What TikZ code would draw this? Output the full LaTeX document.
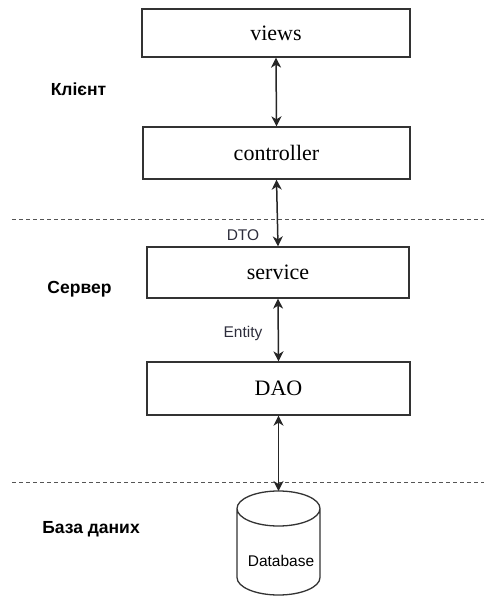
\documentclass[tikz,border=0pt]{standalone}
\usepackage{fontspec}
\setmainfont{Liberation Serif}
\newfontfamily\lblfont{Liberation Sans}
\usetikzlibrary{positioning,arrows.meta,shapes.geometric}
\definecolor{lyink}{HTML}{333333}
\definecolor{lygry}{HTML}{555555}
\definecolor{lytag}{HTML}{2E2E3C}
\tikzset{
  box/.style    ={draw=lyink, line width=1.3pt, fill=white, inner sep=0pt,
                  font=\fontsize{22}{26}\selectfont},
  dbline/.style ={draw=lyink, line width=1.3pt, fill=white},
  tier/.style   ={font=\lblfont\bfseries\fontsize{17.5}{20}\selectfont, anchor=base},
  note/.style   ={font=\lblfont\fontsize{15.5}{18}\selectfont, text=lytag, anchor=base},
  flow/.style   ={{Stealth[length=10pt,width=10pt,inset=3pt]}-{Stealth[length=10pt,width=10pt,inset=3pt]},
                  line width=1.5pt, draw=black!85},
  divider/.style={dash pattern=on 4pt off 3pt, line width=1pt, draw=lygry},
  rim/.style    ={x radius=41.5pt, y radius=17.5pt},
}
\begin{document}
\begin{tikzpicture}[x=1pt,y=1pt]
  \useasboundingbox (0,0) rectangle (484,-597);
  % layers
  \node[box, minimum width=268pt, minimum height=48pt] (views) at (276,-33) {views};
  \node[box, minimum width=267pt, minimum height=52pt] (ctrl) at (276.5,-153) {controller};
  \node[box, minimum width=262pt, minimum height=51pt] (svc) at (278,-272.5) {service};
  \node[box, minimum width=263pt, minimum height=53pt] (dao) at (278.5,-388.5) {DAO};
  % database drum
  \draw[dbline] (237,-508.5) -- (237,-577.5) arc[rim, start angle=180, end angle=360]
    -- (320,-508.5) arc[rim, start angle=0, end angle=180]
    arc[rim, start angle=180, end angle=360];
  \coordinate (dbtop) at (278.5,-491);
  \node[note, text=black] (db) at (281,-566) {Database};
  % tiers
  \draw[divider] (12,-219) -- (484,-219);
  \draw[divider] (12,-482) -- (484,-482);
  \node[tier] (client) at (78.5,-95) {Клієнт};
  \node[tier] (server) at (79.5,-293) {Сервер};
  \node[tier] (store) at (91,-533) {База даних};
  % links
  \draw[flow] (views.south) -- (ctrl.north);
  \draw[flow] (ctrl.south) -- (svc.north);
  \draw[flow] (svc.south) -- (dao.north);
  \draw[flow] (dao.south) -- (dao.south |- dbtop);
  \node[note] (dto) at (243,-240) {DTO};
  \node[note] (ent) at (243,-337) {Entity};
\end{tikzpicture}
\end{document}
